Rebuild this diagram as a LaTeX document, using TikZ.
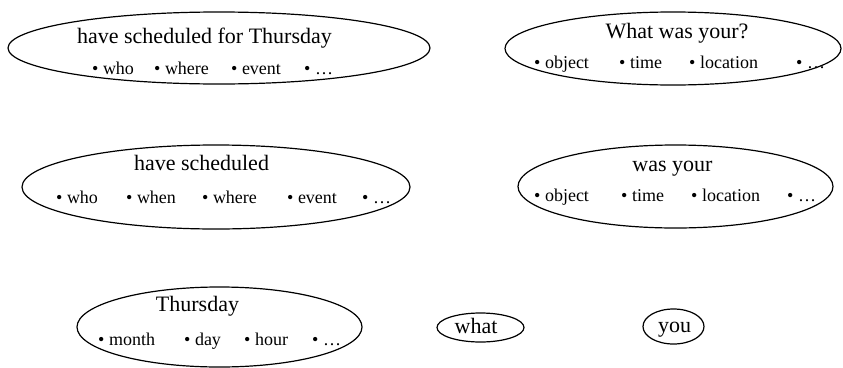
\documentclass[tikz,border=0pt]{standalone}
\usepackage{fontspec}
\setmainfont{Liberation Serif}
\usetikzlibrary{shapes.geometric}
\begin{document}
\begin{tikzpicture}[x=1pt,y=-1pt,
 oval/.style={draw, ellipse, line width=1.2pt, inner sep=0pt},
 ttl/.style={font=\fontsize{22}{24}\selectfont, inner sep=0pt, anchor=base},
 itm/.style={font=\fontsize{18}{20}\selectfont, inner sep=0pt, anchor=base west}]
\useasboundingbox (0,0) rectangle (843,367);
% ellipses
\node[oval, minimum width=422pt, minimum height=72pt] (e1) at (219,48) {};
\node[oval, minimum width=336pt, minimum height=73pt] (e2) at (673,48.5) {};
\node[oval, minimum width=388pt, minimum height=84pt] (e3) at (216,187) {};
\node[oval, minimum width=315pt, minimum height=83pt] (e4) at (675.5,186.5) {};
\node[oval, minimum width=285pt, minimum height=80pt] (e5) at (219.5,327) {};
\node[oval, minimum width=87pt, minimum height=29pt] (e6) at (480.5,327.5) {};
\node[oval, minimum width=61pt, minimum height=35pt] (e7) at (673.5,326.5) {};
% titles
\node[ttl] (t1) at (204.5,43) {have scheduled for Thursday};
\node[ttl] (t2) at (677,38) {What was your?};
\node[ttl] (t3) at (201.5,170) {have scheduled};
\node[ttl] (t4) at (672.5,171) {was your};
\node[ttl] (t5) at (197.5,311) {Thursday};
\node[ttl] (t6) at (476,333) {what};
\node[ttl] (t7) at (674.5,332) {you};
% items ellipse 1
\node[itm] (a1) at (92,74) {• who};
\node[itm] (a2) at (154,74) {• where};
\node[itm] (a3) at (231,74) {• event};
\node[itm] (a4) at (304,74) {• …};
% items ellipse 2
\node[itm] (b1) at (534,68) {• object};
\node[itm] (b2) at (619,68) {• time};
\node[itm] (b3) at (689,68) {• location};
\node[itm] (b4) at (796,68) {• …};
% items ellipse 3
\node[itm] (c1) at (56,203) {• who};
\node[itm] (c2) at (126,203) {• when};
\node[itm] (c3) at (202,203) {• where};
\node[itm] (c4) at (287,203) {• event};
\node[itm] (c5) at (362,203) {• …};
% items ellipse 4
\node[itm] (d1) at (534,201) {• object};
\node[itm] (d2) at (621,201) {• time};
\node[itm] (d3) at (691,201) {• location};
\node[itm] (d4) at (787,201) {• …};
% items ellipse 5
\node[itm] (f1) at (98,345) {• month};
\node[itm] (f2) at (184,345) {• day};
\node[itm] (f3) at (244,345) {• hour};
\node[itm] (f4) at (312,345) {• …};
\end{tikzpicture}
\end{document}
